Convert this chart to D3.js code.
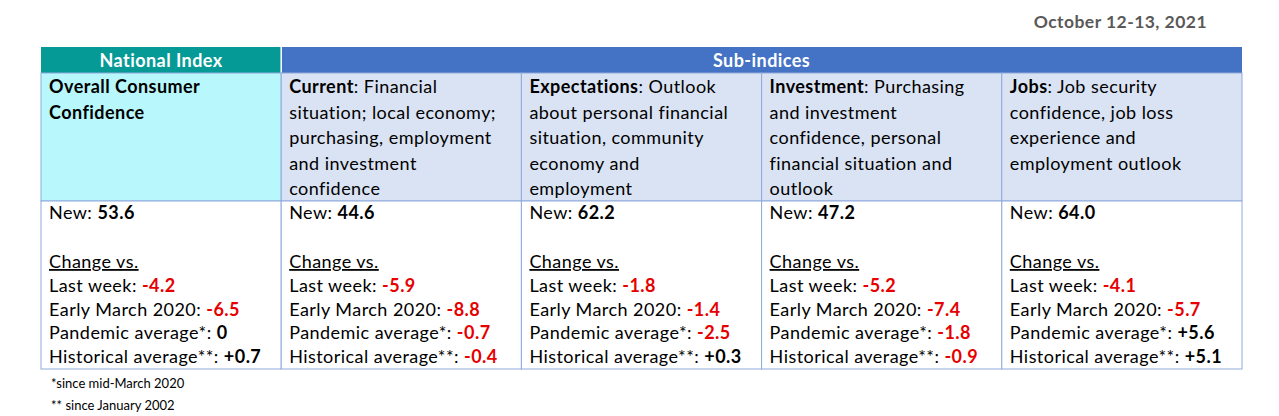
<!DOCTYPE html>
<html><head><meta charset="utf-8">
<script src="https://cdnjs.cloudflare.com/ajax/libs/d3/7.8.5/d3.min.js"></script>
<style>body{margin:0;background:#fff;} text{letter-spacing:0.45px;}</style>
</head><body>
<svg id="c" width="1279" height="416"></svg>
<script>
var dateLabel = "October 12-13, 2021";
var columns = ["overall", "current", "expectations", "investment", "jobs"];
var headTitles = [["National Index", 1], ["Sub-indices", 4]];
var descBold = ["Overall Consumer Confidence", "Current", "Expectations", "Investment", "Jobs"];
var descLines = [
	["Overall Consumer", "Confidence"],
	["Current: Financial", "situation; local economy;", "purchasing, employment", "and investment", "confidence"],
	["Expectations: Outlook", "about personal financial", "situation, community", "economy and", "employment"],
	["Investment: Purchasing", "and investment", "confidence, personal", "financial situation and", "outlook"],
	["Jobs: Job security", "confidence, job loss", "experience and", "employment outlook"]
];
var newValues = ["53.6", "44.6", "62.2", "47.2", "64.0"];
var changeLabels = ["Last week: ", "Early March 2020: ", "Pandemic average*: ", "Historical average**: "];
var lastWeek = [-4.2, -5.9, -1.8, -5.2, -4.1];
var earlyMarch = [-6.5, -8.8, -1.4, -7.4, -5.7];
var pandemicAvg = [0, -0.7, -2.5, -1.8, 5.6];
var historicalAvg = [0.7, -0.4, 0.3, -0.9, 5.1];
var footnotes = ["*since mid-March 2020", "** since January 2002"];

var svg = d3.select("#c"),
	font = "Lato, 'Open Sans', sans-serif",
	fs = 18,
	border = "#8faadc";

var x = d3.scaleBand().domain(columns).range([41, 1242]).padding(0);
var rowY = {head: 47, desc: 73, vals: 201, end: 369};

svg.append("text").attr("x", 1207).attr("y", 28).attr("text-anchor", "end")
	.attr("font-family", font).attr("font-weight", "bold").attr("font-size", 17.5)
	.attr("fill", "#595959").text(dateLabel);

// header row
var hi = 0;
headTitles.forEach(function(h, i){
	var x0 = x(columns[hi]), x1 = x(columns[hi + h[1] - 1]) + x.bandwidth();
	svg.append("rect").attr("x", x0).attr("y", rowY.head).attr("width", x1 - x0)
		.attr("height", rowY.desc - rowY.head).attr("fill", i == 0 ? "#069a96" : "#4472c4");
	svg.append("text").attr("x", (x0 + x1) / 2).attr("y", rowY.head + 20)
		.attr("text-anchor", "middle").attr("font-family", font).attr("font-weight", "bold")
		.attr("font-size", fs).attr("fill", "#fff").text(h[0]);
	hi += h[1];
});
svg.append("line").attr("x1", x(columns[1])).attr("x2", x(columns[1]))
	.attr("y1", rowY.head).attr("y2", rowY.desc).attr("stroke", "#fff").attr("stroke-width", 1.5);

// description row
var desc = svg.selectAll(".desc").data(columns).enter().append("g").attr("class", "desc");
desc.append("rect").attr("x", function(d){return x(d);}).attr("y", rowY.desc)
	.attr("width", x.bandwidth()).attr("height", rowY.vals - rowY.desc)
	.attr("fill", function(d, i){return i == 0 ? "#b8f7fb" : "#dae3f3";})
	.attr("stroke", border);
desc.each(function(d, i){
	var g = d3.select(this);
	descLines[i].forEach(function(line, j){
		var t = g.append("text").attr("x", x(d) + 8).attr("y", rowY.desc + 20 + j * 25.5)
			.attr("font-family", font).attr("font-size", fs).attr("fill", "#000");
		if(i == 0){
			t.attr("font-weight", "bold").text(line);
		} else if(j == 0){
			t.append("tspan").attr("font-weight", "bold").text(descBold[i]);
			t.append("tspan").text(line.slice(descBold[i].length));
		} else t.text(line);
	});
});

// values row
var fmt = function(v){ return v > 0 ? "+" + v.toFixed(1) : v == 0 ? "0" : v.toFixed(1); };
var changes = [lastWeek, earlyMarch, pandemicAvg, historicalAvg];
var vals = svg.selectAll(".vals").data(columns).enter().append("g").attr("class", "vals");
vals.append("rect").attr("x", function(d){return x(d);}).attr("y", rowY.vals)
	.attr("width", x.bandwidth()).attr("height", rowY.end - rowY.vals)
	.attr("fill", "#fff").attr("stroke", border);
vals.each(function(d, i){
	var g = d3.select(this), lx = x(d) + 8;
	var t = g.append("text").attr("x", lx).attr("y", rowY.vals + 18)
		.attr("font-family", font).attr("font-size", fs);
	t.append("tspan").text("New: ");
	t.append("tspan").attr("font-weight", "bold").text(newValues[i]);
	g.append("text").attr("x", lx).attr("y", rowY.vals + 67).attr("font-family", font)
		.attr("font-size", fs).attr("text-decoration", "underline").text("Change vs.");
	changes.forEach(function(arr, k){
		var tt = g.append("text").attr("x", lx).attr("y", rowY.vals + 91 + k * 23.7)
			.attr("font-family", font).attr("font-size", fs);
		tt.append("tspan").text(changeLabels[k]);
		tt.append("tspan").attr("font-weight", "bold")
			.attr("fill", arr[i] < 0 ? "#e60000" : "#000").text(fmt(arr[i]));
	});
});

footnotes.forEach(function(f, i){
	svg.append("text").attr("x", 51).attr("y", 388 + i * 22).attr("font-family", font)
		.attr("font-size", 13).attr("fill", "#000").style("letter-spacing", "0px").text(f);
});
</script>
</body></html>
